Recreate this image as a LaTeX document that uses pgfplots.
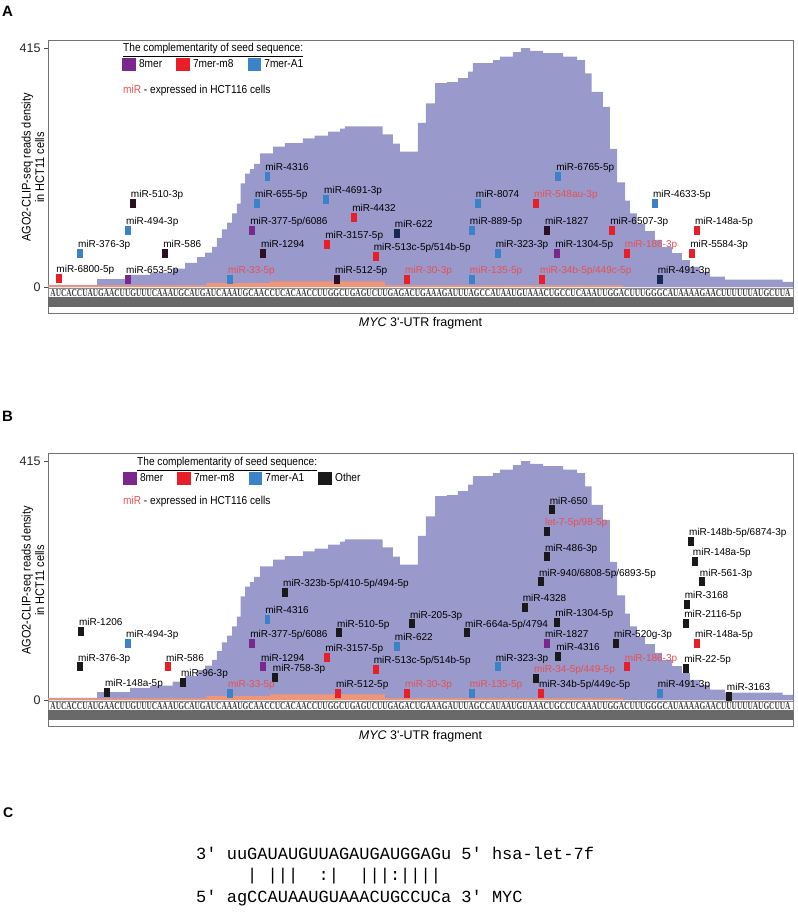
\documentclass[border=0pt]{standalone}
\usepackage{fontspec}
\setmainfont{Liberation Sans}
\newfontfamily\narrowfont[FakeStretch=0.88]{Liberation Sans}
\newfontfamily\cmono{Liberation Mono}
\newfontfamily\seqfont{Liberation Serif}
\usepackage{graphicx}
\usepackage{pgfplots}
\pgfplotsset{compat=1.18}
\usepackage{pgfplotstable}

\definecolor{prof}{RGB}{153,153,204}
\definecolor{orng}{RGB}{240,150,120}
\definecolor{c8}{RGB}{122,40,140}
\definecolor{cm8}{RGB}{232,30,40}
\definecolor{ca1}{RGB}{60,130,200}
\definecolor{cot}{RGB}{25,25,25}
\definecolor{cdk}{RGB}{45,15,35}
\definecolor{cnv}{RGB}{25,40,80}
\definecolor{exprtext}{RGB}{232,80,80}
\definecolor{band}{RGB}{105,105,105}

% read density profile (x = nt position in the 3'-UTR fragment)
\pgfplotstableread{
x y
0 0
0 4
9.1 14
15.2 21
18.9 25
23.1 32
25.4 42
27.6 52
29.1 60
30.4 70
31.3 85
32.2 100
33.2 112
34.1 128
35.0 145
35.7 180
36.5 197
37.4 205
38.2 214
39.3 232
41.7 244
43.9 250
47.2 258
49.4 263
51.9 270
54.1 275
55.0 279
62.0 265
63.9 249
65.2 235
68.5 285
70.0 319
71.7 354
73.9 356
75.9 363
77.8 374
78.7 389
82.4 394
83.7 400
86.1 408
87.6 415
89.3 410
91.7 406
95.4 400
98.0 394
99.5 371
100.7 339
102.8 313
104.1 240
105.4 182
106.9 150
107.8 128
109.1 110
110.6 97
112.4 82
113.7 70
115.6 59
117.4 47
118.9 35
120.8 26
122.6 18
125.4 13
136.1 9
138 9
138 0
}\profile

\pgfplotstableread{
x y
0 0
0 3
29.4 7
41.1 10
62.4 3
106.5 0
138 0
}\hct

\pgfplotsset{
  panel/.style={
    width=745pt, height=273pt, scale only axis,
    xmin=0, xmax=138, ymin=-45, ymax=429,
    axis line style={draw=black!55, line width=0.8pt},
    xtick=\empty, ytick={0,415}, ytick pos=left, tick align=outside,
    major tick length=4pt, tick style={black!70},
    yticklabel style={font=\fontsize{12.5}{13}\selectfont, text=black!85},
    /pgf/number format/assume math mode=true,
    clip=false,
    every axis y label/.style={at={(axis description cs:-0.0201,0.533)}, rotate=90, anchor=center, align=center, font=\narrowfont\fontsize{12.5}{13.5}\selectfont},
    every axis x label/.style={at={(axis description cs:0.5,0)}, anchor=north, inner sep=0pt, yshift=-4.5pt, font=\fontsize{12.5}{13}\selectfont},
    ylabel={AGO2-CLIP-seq reads density\\in HCT11 cells},
    xlabel={\textit{MYC} 3\textquotesingle-UTR fragment},
    legend columns=-1, legend cell align=left,
    legend style={draw=none, fill=none, anchor=west, inner sep=0pt,
      font=\narrowfont\fontsize{11.5}{12}\selectfont,
      /tikz/every odd column/.append style={column sep=2pt},
      /tikz/every even column/.append style={column sep=12pt}},
    every node near coord/.append style={anchor=base west, xshift=-2pt, yshift=5.4pt, inner sep=0pt, font=\fontsize{10}{11}\selectfont, text=black},
  },
  sq/.style={only marks, mark=square*, mark size=4pt, mark options={xscale=0.62, draw=none, fill=#1}, color=#1, nodes near coords, point meta=explicit symbolic},
  legsq/.style={legend image code/.code={\fill[#1] (0pt,-6pt) rectangle (12.5pt,6pt);}},
  redtxt/.style={every node near coord/.append style={text=exprtext}},
}

\newcommand{\seqstrip}{%
  \fill[white, draw=black!45, line width=0.4pt] (axis cs:0,-2.5) rectangle (axis cs:138,-17.4);
  \node[inner sep=0pt, text=black!75] at (axis cs:69,-10) {\resizebox{740pt}{7pt}{\seqfont\bfseries AUCACCUAUGAACUUGUUUCAAAUGCAUGAUCAAAUGCAACCUCACAACCUUGGCUGAGUCUUGAGACUGAAAGAUUUAGCCAUAAUGUAAACUGCCUCAAAUUGGACUUUGGGCAUAAAAGAACUUUUUUAUGCUUA}};
  \fill[band] (axis cs:0,-17.4) rectangle (axis cs:138,-34.7);
}

\begin{document}
\begin{tikzpicture}
\useasboundingbox (0,0) rectangle (798pt,924pt);

% ---------------- A ----------------
\begin{axis}[panel, at={(48pt,611pt)}, anchor=south west,
  legend style={at={(0.0993,0.912)}}]
  \addplot[const plot, fill=prof, draw=none, forget plot] table {\profile};
  \addplot[const plot, fill=orng, draw=none, forget plot] table {\hct};
  \seqstrip
  \addplot[sq=c8, legsq=c8] table[meta=lab] {
x y lab
14.8 14 miR-653-5p
37.8 99 miR-377-5p/6086
94.3 59 miR-1304-5p
};
  \addplot[sq=cm8, legsq=cm8] table[meta=lab] {
x y lab
1.9 16 miR-6800-5p
56.7 122 miR-4432
51.7 75 miR-3157-5p
60.7 54 miR-513c-5p/514b-5p
104.5 99 miR-6507-3p
120.2 99 miR-148a-5p
119.3 59 miR-5584-3p
};
  \addplot[sq=ca1, legsq=ca1] table[meta=lab] {
x y lab
5.9 59 miR-376-3p
14.8 99 miR-494-3p
38.7 146 miR-655-5p
40.6 193 miR-4316
51.5 153 miR-4691-3p
78.5 99 miR-889-5p
79.6 146 miR-8074
83.3 59 miR-323-3p
94.5 193 miR-6765-5p
112.4 146 miR-4633-5p
};
  \addplot[sq=cdk, forget plot] table[meta=lab] {
x y lab
15.7 146 miR-510-3p
21.7 59 miR-586
39.8 59 miR-1294
53.5 14 miR-512-5p
92.4 99 miR-1827
};
  \addplot[sq=cnv, forget plot] table[meta=lab] {
x y lab
64.6 94 miR-622
113.3 14 miR-491-3p
};
  \addplot[sq=ca1, redtxt, forget plot] table[meta=lab] {
x y lab
33.7 14 miR-33-5p
78.5 14 miR-135-5p
};
  \addplot[sq=cm8, redtxt, forget plot] table[meta=lab] {
x y lab
66.5 14 miR-30-3p
90.4 146 miR-548au-3p
91.5 14 miR-34b-5p/449c-5p
107.2 59 miR-186-3p
};
  \legend{8mer,7mer-m8,7mer-A1}
\end{axis}

% ---------------- B ----------------
\begin{axis}[panel, at={(48pt,198pt)}, anchor=south west,
  legend style={at={(0.1007,0.908)}}]
  \addplot[const plot, fill=prof, draw=none, forget plot] table {\profile};
  \addplot[const plot, fill=orng, draw=none, forget plot] table {\hct};
  \seqstrip
  \addplot[sq=c8, legsq=c8] table[meta=lab] {
x y lab
37.8 99 miR-377-5p/6086
39.8 58 miR-1294
92.4 99 miR-1827
};
  \addplot[sq=cm8, legsq=cm8] table[meta=lab] {
x y lab
22.2 58 miR-586
51.7 75 miR-3157-5p
53.7 12 miR-512-5p
60.7 54 miR-513c-5p/514b-5p
91.3 12 miR-34b-5p/449c-5p
120.2 99 miR-148a-5p
};
  \addplot[sq=ca1, legsq=ca1] table[meta=lab] {
x y lab
14.8 99 miR-494-3p
40.6 141 miR-4316
64.6 94 miR-622
83.3 58 miR-323-3p
113.3 12 miR-491-3p
};
  \addplot[sq=cot, legsq=cot] table[meta=lab] {
x y lab
6.1 120 miR-1206
5.9 58 miR-376-3p
10.9 14 miR-148a-5p
25.0 31 miR-96-3p
43.9 188 miR-323b-5p/410-5p/494-5p
42.0 40 miR-758-3p
53.9 117 miR-510-5p
67.4 133 miR-205-3p
77.6 117 miR-664a-5p/4794
94.5 77 miR-4316
94.3 136 miR-1304-5p
88.3 162 miR-4328
91.3 206 miR-940/6808-5p/6893-5p
92.4 249 miR-486-3p
93.3 331 miR-650
105.2 99 miR-520g-3p
126.1 7 miR-3163
118.2 56 miR-22-5p
118.2 134 miR-2116-5p
118.3 167 miR-3168
121.1 206 miR-561-3p
119.8 241 miR-148a-5p
119.1 276 miR-148b-5p/6874-3p
};
  \addplot[sq=cm8, redtxt, forget plot] table[meta=lab] {
x y lab
66.5 12 miR-30-3p
107.2 58 miR-186-3p
};
  \addplot[sq=ca1, redtxt, forget plot] table[meta=lab] {
x y lab
33.7 12 miR-33-5p
78.5 12 miR-135-5p
};
  \addplot[sq=cot, redtxt, forget plot] table[meta=lab] {
x y lab
90.4 38 miR-34-5p/449-5p
92.4 293 let-7-5p/98-5p
};
  \legend{8mer,7mer-m8,7mer-A1,Other}
\end{axis}

% legend titles and notes
\begin{scope}[every node/.style={inner sep=0pt, anchor=base west, font=\narrowfont\fontsize{11.5}{12}\selectfont}]
  \node at (123pt,872pt) {\underline{The complementarity of seed sequence:}};
  \node at (123pt,830pt) {\textcolor{exprtext}{miR} - expressed in HCT116 cells};
  \node at (137pt,458pt) {\underline{The complementarity of seed sequence:}};
  \node at (123pt,419pt) {\textcolor{exprtext}{miR} - expressed in HCT116 cells};
\end{scope}

% panel letters
\node[anchor=base west, inner sep=0pt, font=\bfseries\fontsize{15}{15}\selectfont] at (2pt,907pt) {A};
\node[anchor=base west, inner sep=0pt, font=\bfseries\fontsize{15}{15}\selectfont] at (2pt,502pt) {B};
\node[anchor=base west, inner sep=0pt, font=\bfseries\fontsize{14}{14}\selectfont] at (3pt,106pt) {C};

% panel C: let-7f / MYC pairing
\begin{scope}[every node/.style={inner sep=0pt, anchor=base west, font=\cmono\fontsize{17}{17}\selectfont}]
  \node at (196pt,64.5pt) {3\textquotesingle~uuGAUAUGUUAGAUGAUGGAGu~5\textquotesingle~hsa-let-7f};
  \node at (196pt,43pt) {~~~~~|~|||~~:|~~|||:||||};
  \node at (196pt,21pt) {5\textquotesingle~agCCAUAAUGUAAACUGCCUCa~3\textquotesingle~MYC};
\end{scope}
\end{tikzpicture}
\end{document}
